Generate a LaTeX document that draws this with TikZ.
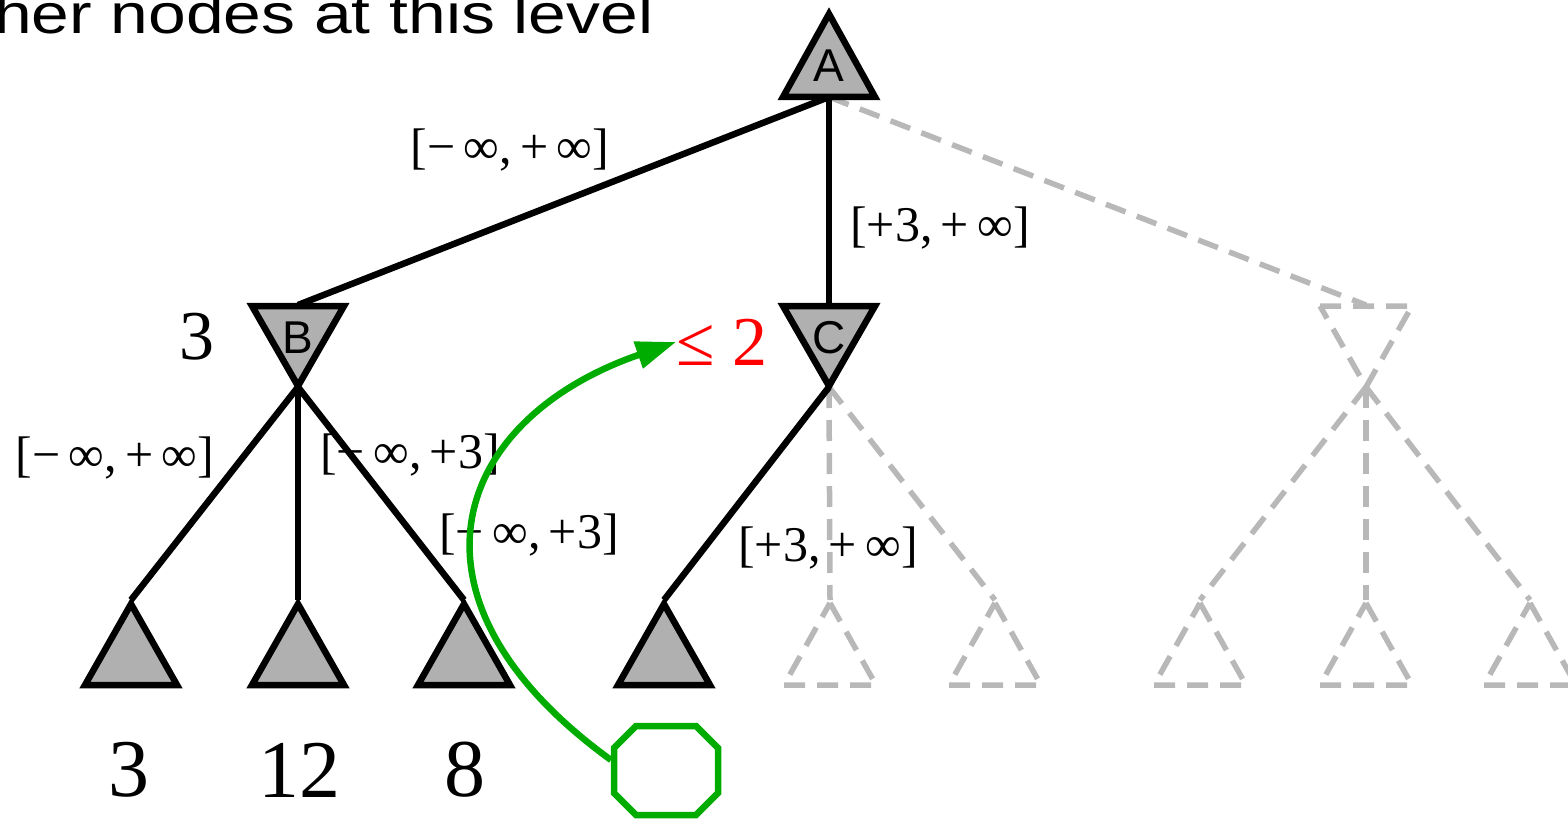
\documentclass[tikz,border=0pt]{standalone}
\usepackage{fontspec}
\setmainfont{Liberation Serif}
\newfontfamily\sansf{Liberation Sans}
\usetikzlibrary{arrows.meta}
\definecolor{tgray}{RGB}{176,176,176}
\definecolor{dgray}{RGB}{184,184,184}
\definecolor{tgreen}{RGB}{0,172,0}
\definecolor{tred}{RGB}{255,0,0}
\begin{document}
\begin{tikzpicture}[x=1pt,y=-1pt,
  solidtri/.style={draw=black, fill=tgray, line width=6.5pt, line join=miter},
  ghosttri/.style={draw=dgray, line width=5.5pt, dash pattern=on 21pt off 12pt},
  edge/.style={draw=black, line width=6.5pt},
  ghostedge/.style={draw=dgray, line width=5.5pt, dash pattern=on 21pt off 12pt},
  lbl/.style={font=\fontsize{50}{60}\selectfont, inner sep=0pt},
  big/.style={font=\fontsize{82}{90}\selectfont, inner sep=0pt},
  mid/.style={font=\fontsize{70}{80}\selectfont, inner sep=0pt},
  letter/.style={font=\sansf\fontsize{46}{50}\selectfont, inner sep=0pt},
  greenline/.style={draw=tgreen, line width=6.5pt},
]
\useasboundingbox (0,0) rectangle (1568,821);

% heading (cut off)
\node[anchor=base west, inner sep=0pt, font=\sansf\fontsize{56}{60}\selectfont] (head) at (-6,34) {\scalebox{1.21}[1]{her nodes at this level}};

% attachment points
\coordinate (A) at (829,97);
\coordinate (Bt) at (298,305);  \coordinate (Bb) at (298,387);
\coordinate (Ct) at (829,305);  \coordinate (Cb) at (829,387);
\coordinate (Dt) at (1366,305); \coordinate (Db) at (1366,387);
\coordinate (L1) at (131,600);
\coordinate (L2) at (298,600);
\coordinate (L3) at (464,600);
\coordinate (L4) at (664,600);
\coordinate (L5) at (830,600);
\coordinate (L6) at (995,600);
\coordinate (L7) at (1200,600);
\coordinate (L8) at (1366,600);
\coordinate (L9) at (1530,600);

% edges
\draw[ghostedge] (A) -- (Dt);
\draw[ghostedge] (Cb) -- (L5);
\draw[ghostedge] (Cb) -- (L6);
\draw[ghostedge] (Db) -- (L7);
\draw[ghostedge] (Db) -- (L8);
\draw[ghostedge] (Db) -- (L9);
\draw[edge] (A) -- (Bt);
\draw[edge] (A) -- (Ct);
\draw[edge] (Bb) -- (L1);
\draw[edge] (Bb) -- (L2);
\draw[edge] (Bb) -- (L3);
\draw[edge] (Cb) -- (L4);

% root A
\path[solidtri] (829,14) -- (875,97) -- (783,97) -- cycle;
\node[letter] (Alab) at (829,66) {A};
% min nodes
\path[solidtri] (252,306) -- (344,306) -- (298,386) -- cycle;
\node[letter] (Blab) at (298,338) {B};
\path[solidtri] (783,306) -- (875,306) -- (829,386) -- cycle;
\node[letter] (Clab) at (829,338) {C};
\path[ghosttri] (1320,306) -- (1412,306) -- (1366,387) -- cycle;
% leaves
\foreach \x in {131,298,464,664}{
  \path[solidtri] (\x,604) -- (\x+46,685) -- (\x-46,685) -- cycle;
}
\foreach \x in {830,995,1200,1366,1530}{
  \path[ghosttri] (\x,603) -- (\x+46,685) -- (\x-46,685) -- cycle;
}

% labels
\node[lbl] (lab1) at (510,150) {[−\,∞,\,+\,∞]};
\node[lbl] (lab2) at (940,228) {[+3,\,+\,∞]};
\node[mid] (v3) at (197,337) {3};
\node[lbl] (lab3) at (115,458) {[−\,∞,\,+\,∞]};
\node[lbl] (lab4) at (410,455) {[−\,∞,\,+3]};
\node[lbl] (lab5) at (529,535) {[−\,∞,\,+3]};
\node[lbl] (lab6) at (828,548) {[+3,\,+\,∞]};
\node[mid, text=tred, anchor=west] (le) at (676,342) {≤ 2};
\node[big] (n1) at (129,770) {3};
\node[big] (n2) at (299,770) {12};
\node[big] (n3) at (465,770) {8};

% octagon
\draw[greenline, line join=miter] (636,726) -- (696,726) -- (718,748) -- (718,793) -- (696,815) -- (636,815) -- (614,793) -- (614,748) -- cycle;
\coordinate (oct) at (611,760);
\draw[greenline, -{Triangle[length=40pt,width=27pt]}] (oct) .. controls (390,600) and (450,420) .. (le.west);
\end{tikzpicture}
\end{document}
